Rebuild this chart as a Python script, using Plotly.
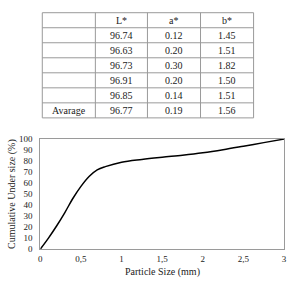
import plotly.graph_objects as go

# Table data
col_labels = ["", "L*", "a*", "b*"]
row_labels = ["", "", "", "", "", "Avarage"]
L_vals = ["96.74", "96.63", "96.73", "96.91", "96.85", "96.77"]
a_vals = ["0.12", "0.20", "0.30", "0.20", "0.14", "0.19"]
b_vals = ["1.45", "1.51", "1.82", "1.50", "1.51", "1.56"]

# Curve data
size_mm = [0, 0.1, 0.2, 0.3, 0.4, 0.5, 0.6, 0.7, 0.8, 1.0, 1.25, 1.5, 1.75, 2.0, 2.25, 2.5, 2.75, 3.0]
cum_under = [0, 10, 21, 33, 46, 57, 66, 72, 75, 79, 81.5, 83.5, 85.3, 87.5, 90.3, 93.5, 96.8, 100]

font_family = "Liberation Serif"
grid_col = "#9a9a9a"
W, H = 290, 284

fig = go.Figure()

fig.add_trace(go.Scatter(
    x=size_mm, y=cum_under, mode="lines",
    line=dict(color="black", width=1.5, shape="spline", smoothing=1.0),
    showlegend=False, hoverinfo="skip",
))

# Table layout (pixels)
col_edges = [41, 95, 148, 202, 256]
top, bottom = 8, 117
n_rows = 1 + len(L_vals)
row_h = (bottom - top) / n_rows
row_edges = [top + i * row_h for i in range(n_rows + 1)]

shapes = []
for xe in col_edges:
    shapes.append(dict(type="line", xref="paper", yref="paper",
                       x0=xe / W, x1=xe / W, y0=1 - top / H, y1=1 - bottom / H,
                       line=dict(color=grid_col, width=1)))
for ye in row_edges:
    shapes.append(dict(type="line", xref="paper", yref="paper",
                       x0=col_edges[0] / W, x1=col_edges[-1] / W, y0=1 - ye / H, y1=1 - ye / H,
                       line=dict(color=grid_col, width=1)))

annotations = []
columns = [row_labels, L_vals, a_vals, b_vals]
for ci in range(4):
    xc = (col_edges[ci] + col_edges[ci + 1]) / 2 / W
    cells = [col_labels[ci]] + list(columns[ci])
    for ri, txt in enumerate(cells):
        if not txt:
            continue
        yc = 1 - ((row_edges[ri] + row_edges[ri + 1]) / 2) / H
        annotations.append(dict(text=txt, x=xc, y=yc, xref="paper", yref="paper",
                                showarrow=False, xanchor="center", yanchor="middle",
                                font=dict(family=font_family, size=10, color="#222")))

annotations += [
    dict(text="Particle Size (mm)", x=163 / W, y=1 - 277 / H, xref="paper", yref="paper",
         showarrow=False, font=dict(size=10, family=font_family, color="#222"),
         xanchor="center", yanchor="middle"),
    dict(text="Cumulative Under size (%)", x=10 / W, y=1 - 196 / H, xref="paper", yref="paper",
         showarrow=False, textangle=-90, font=dict(size=10, family=font_family, color="#222"),
         xanchor="center", yanchor="middle"),
]

fig.update_layout(
    width=W, height=H,
    margin=dict(l=0, r=0, t=0, b=0),
    paper_bgcolor="white", plot_bgcolor="white",
    separators=", ",
    font=dict(family=font_family, size=9, color="#222"),
    xaxis=dict(domain=[39 / W, 287 / W], range=[0, 3], dtick=0.5, tick0=0,
               showgrid=False, zeroline=False, showline=True, mirror=True,
               linecolor=grid_col, linewidth=1, ticks="", ticklabelstandoff=1,
               tickfont=dict(size=9, family=font_family)),
    yaxis=dict(domain=[1 - 253 / H, 1 - 139 / H], range=[0, 100], dtick=10,
               showgrid=False, zeroline=False, showline=True, mirror=True,
               linecolor=grid_col, linewidth=1, ticks="", ticklabelstandoff=5,
               tickfont=dict(size=9, family=font_family)),
    shapes=shapes,
    annotations=annotations,
)

fig.write_html("out.html")
